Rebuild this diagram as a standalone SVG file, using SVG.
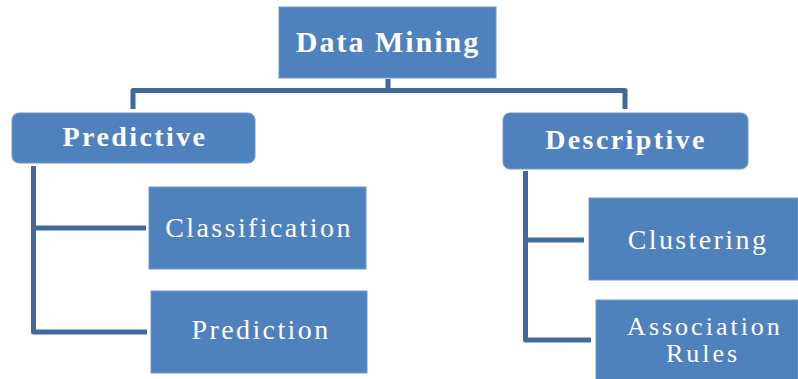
<svg xmlns="http://www.w3.org/2000/svg" width="798" height="379" viewBox="0 0 798 379">
<style>
.box{fill:#4F81BD;stroke:#6E97CA;stroke-width:1}
.t{font-family:'Liberation Serif','DejaVu Serif',serif;fill:#fff;text-anchor:middle;font-size:28px;letter-spacing:2.4px}
.b{font-weight:bold}
.c{fill:none;stroke:#41699B;stroke-width:5;stroke-linejoin:round}
</style>
<rect width="798" height="379" fill="#fff"/>
<g id="connectors">
<path class="c" d="M388 79 V90.5 H133 V109"/>
<path class="c" d="M388 90.5 H625 V109"/>
<path class="c" d="M33.5 166 V332 H147"/>
<path class="c" d="M33.5 228 H146"/>
<path class="c" d="M525.5 171 V340 H591"/>
<path class="c" d="M525.5 240 H584"/>
</g>
<g id="data-mining">
<rect class="box" x="279" y="7" width="217" height="71"/>
<text class="t b" x="388" y="52" font-family="Liberation Serif, serif" style="font-size:30px;letter-spacing:2px">Data Mining</text>
</g>
<g id="predictive">
<rect class="box" x="12" y="113" width="243" height="50" rx="7"/>
<text class="t b" x="135" y="146">Predictive</text>
</g>
<g id="descriptive">
<rect class="box" x="503" y="113" width="245" height="56" rx="7"/>
<text class="t b" x="626" y="149">Descriptive</text>
</g>
<g id="classification">
<rect class="box" x="149" y="187" width="217" height="82"/>
<text class="t" x="259" y="237">Classification</text>
</g>
<g id="prediction">
<rect class="box" x="151" y="291" width="216" height="82"/>
<text class="t" x="261" y="339">Prediction</text>
</g>
<g id="clustering">
<rect class="box" x="589" y="198" width="209" height="82"/>
<text class="t" x="698" y="249">Clustering</text>
</g>
<g id="association-rules">
<rect class="box" x="596" y="300" width="202" height="80"/>
<text class="t" x="705" y="335" style="font-size:26px;letter-spacing:3px">Association</text>
<text class="t" x="703" y="362" style="font-size:26px;letter-spacing:3px">Rules</text>
</g>
</svg>
